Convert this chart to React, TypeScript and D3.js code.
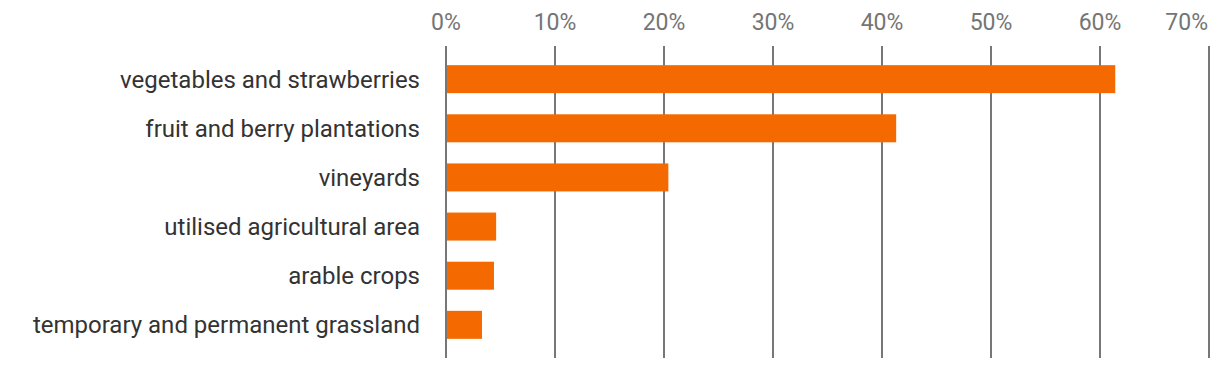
import React from "react";
import * as d3 from "d3";

const categories = [
  "vegetables and strawberries",
  "fruit and berry plantations",
  "vineyards",
  "utilised agricultural area",
  "arable crops",
  "temporary and permanent grassland",
];
const values = [61.4, 41.3, 20.4, 4.6, 4.4, 3.3];
const ticks = [0, 10, 20, 30, 40, 50, 60, 70];

export default function App() {
  const W = 1220, H = 368;
  const x = d3.scaleLinear().domain([0, 70]).range([446, 1209]);
  const y = d3.scaleBand<string>().domain(categories).range([46, 358]).paddingInner(0.43).paddingOuter(0.39);
  const font = "Roboto, 'Noto Sans', sans-serif";
  return (
    <svg width={W} height={H} style={{ position: "absolute", left: 0, top: 0 }}>
      {ticks.map((t, i) => {
        const last = i === ticks.length - 1;
        return (
          <g key={t}>
            <line x1={x(t)} x2={x(t)} y1={46} y2={358} stroke="#777" strokeWidth={2} />
            <text
              x={last ? x(t) - 1 : x(t)}
              y={30}
              textAnchor={last ? "end" : "middle"}
              fontFamily={font}
              fontSize={23}
              fill="#757575"
            >
              {t}%
            </text>
          </g>
        );
      })}
      {categories.map((c, i) => (
        <g key={c}>
          <rect x={x(0) + 1} y={y(c)!} width={x(values[i]) - x(0) - 1} height={y.bandwidth()} fill="#f46a00" />
          <text x={420} y={y(c)! + y.bandwidth() / 2} dy="0.35em" textAnchor="end" fontFamily={font} fontSize={24} fill="#333">
            {c}
          </text>
        </g>
      ))}
    </svg>
  );
}
